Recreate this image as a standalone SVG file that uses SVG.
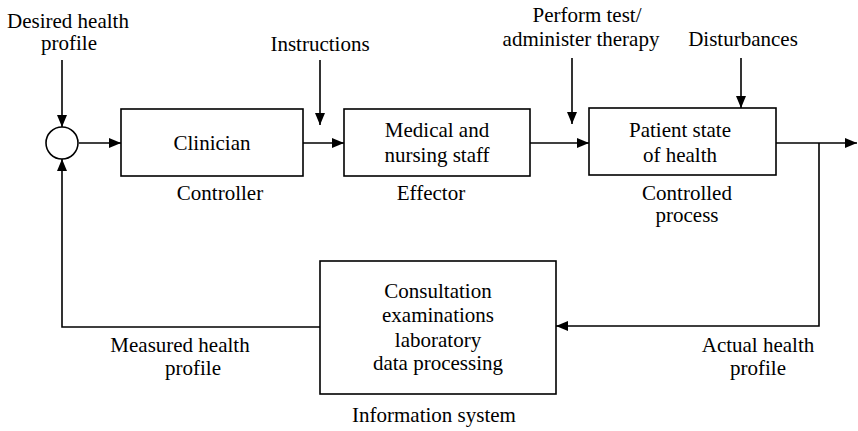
<svg xmlns="http://www.w3.org/2000/svg" width="858" height="431" viewBox="0 0 858 431">
<style>
.box{fill:#fff;stroke:#000;stroke-width:1.6}
.ln{fill:none;stroke:#000;stroke-width:1.6}
</style>
<defs>
<marker id="ah" markerWidth="12" markerHeight="10" refX="12" refY="5" orient="auto" markerUnits="userSpaceOnUse">
<path d="M0,0 L12,5 L0,10 Z" fill="#000"/>
</marker>
</defs>
<rect width="858" height="431" fill="#fff"/>
<g id="connectors">
<path class="ln" d="M62,60 V127" marker-end="url(#ah)"/>
<path class="ln" d="M79,143 H121" marker-end="url(#ah)"/>
<path class="ln" d="M303,143 H344" marker-end="url(#ah)"/>
<path class="ln" d="M320,60 V125" marker-end="url(#ah)"/>
<path class="ln" d="M530,143 H589" marker-end="url(#ah)"/>
<path class="ln" d="M572,58 V124" marker-end="url(#ah)"/>
<path class="ln" d="M741,58 V108" marker-end="url(#ah)"/>
<path class="ln" d="M776,143 H857" marker-end="url(#ah)"/>
<path class="ln" d="M819,143 V326 H556" marker-end="url(#ah)"/>
<path class="ln" d="M320,327 H62 V159" marker-end="url(#ah)"/>
</g>
<g id="sum">
<circle cx="62" cy="143" r="16" fill="#fff" stroke="#000" stroke-width="1.6"/>
</g>
<g font-family="Liberation Serif, Times New Roman, serif" font-size="21" text-anchor="middle" fill="#000">
<g id="desired">
<text x="68" y="28">Desired health</text>
<text x="69" y="50">profile</text>
</g>
<g id="instructions"><text x="320" y="51">Instructions</text></g>
<g id="perform">
<text x="587" y="22">Perform test/</text>
<text x="581" y="46">administer therapy</text>
</g>
<g id="disturbances"><text x="743" y="46">Disturbances</text></g>
<g id="clinician">
<rect class="box" x="121" y="109" width="182" height="67"/>
<text x="212" y="150">Clinician</text>
<text x="220" y="200">Controller</text>
</g>
<g id="medical">
<rect class="box" x="344" y="109" width="186" height="67"/>
<text x="437" y="137">Medical and</text>
<text x="437" y="162">nursing staff</text>
<text x="431" y="200">Effector</text>
</g>
<g id="patient">
<rect class="box" x="589" y="108" width="187" height="67"/>
<text x="680" y="137">Patient state</text>
<text x="680" y="162">of health</text>
<text x="687" y="200">Controlled</text>
<text x="687" y="222">process</text>
</g>
<g id="information">
<rect class="box" x="320" y="261" width="236" height="133"/>
<text x="438" y="298">Consultation</text>
<text x="438" y="322">examinations</text>
<text x="438" y="347">laboratory</text>
<text x="438" y="370">data processing</text>
<text x="434" y="422">Information system</text>
</g>
<g id="measured">
<text x="180" y="352">Measured health</text>
<text x="193" y="375">profile</text>
</g>
<g id="actual">
<text x="758" y="352">Actual health</text>
<text x="758" y="375">profile</text>
</g>
</g>
</svg>
